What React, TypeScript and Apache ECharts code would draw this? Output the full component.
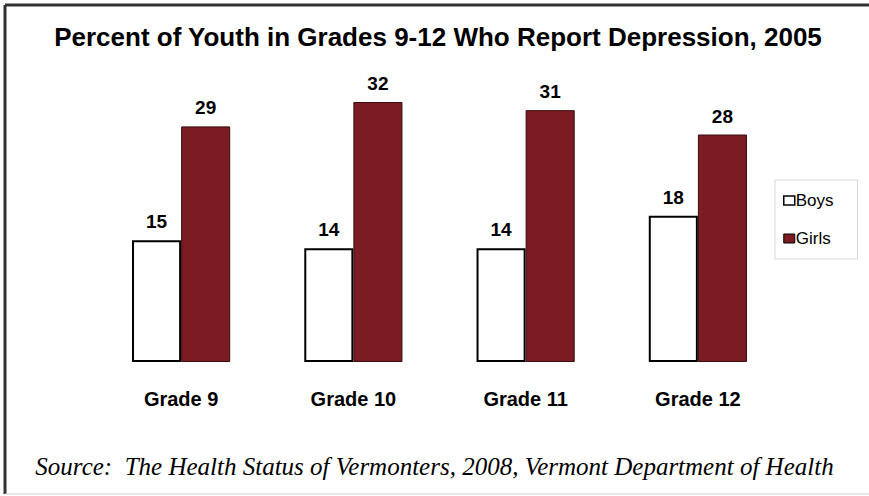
import React, { useEffect, useRef } from "react";
import * as echarts from "echarts";

const categories = ["Grade 9", "Grade 10", "Grade 11", "Grade 12"];
const boys = [15, 14, 14, 18];
const girls = [29, 32, 31, 28];

export default function App() {
  const ref = useRef<HTMLDivElement>(null);
  useEffect(() => {
    const chart = echarts.init(ref.current!, null, { renderer: "svg" });
    const labelStyle = {
      show: true,
      position: "top",
      distance: 9,
      fontFamily: "'Liberation Sans', Arial, sans-serif",
      fontWeight: "bold",
      fontSize: 19,
      color: "#000",
    };
    chart.setOption({
      animation: false,
      backgroundColor: "#ffffff",
      title: {
        text: "Percent of Youth in Grades 9-12 Who Report Depression, 2005",
        left: 433,
        textAlign: "center",
        top: 19,
        textStyle: {
          fontFamily: "'Liberation Sans', Arial, sans-serif",
          fontWeight: "bold",
          fontSize: 26,
          color: "#000",
        },
      },
      legend: {
        orient: "vertical",
        left: 775,
        top: 180,
        itemWidth: 11,
        itemHeight: 9,
        itemGap: 21,
        icon: "rect",
        padding: [12, 24, 12, 8],
        borderColor: "#d8d8d8",
        borderWidth: 1,
        textStyle: { fontFamily: "'Liberation Sans', Arial, sans-serif", fontSize: 17, color: "#000", padding: [0, 0, 0, -4] },
        data: [
          { name: "Boys", itemStyle: { color: "#ffffff", borderColor: "#000", borderWidth: 1.5 } },
          { name: "Girls", itemStyle: { color: "#7a1c22", borderColor: "#000", borderWidth: 1 } },
        ],
      },
      grid: { left: 95, right: 85, top: 37, bottom: 134, containLabel: false },
      xAxis: {
        type: "category",
        data: categories,
        axisLine: { show: false },
        axisTick: { show: false },
        axisLabel: {
          margin: 27,
          fontFamily: "'Liberation Sans', Arial, sans-serif",
          fontWeight: "bold",
          fontSize: 20,
          color: "#000",
        },
      },
      yAxis: {
        type: "value",
        min: 0,
        max: 40,
        show: false,
        splitLine: { show: false },
      },
      series: [
        {
          name: "Boys",
          type: "bar",
          data: boys,
          barGap: "0%",
          barCategoryGap: "43%",
          itemStyle: { color: "#ffffff", borderColor: "#000", borderWidth: 2 },
          label: labelStyle,
        },
        {
          name: "Girls",
          type: "bar",
          data: girls,
          itemStyle: { color: "#7a1c22", borderColor: "#3a0c0e", borderWidth: 1 },
          label: labelStyle,
        },
      ],
      graphic: [
        {
          type: "text",
          left: "center",
          top: 454,
          style: {
            text: "Source:  The Health Status of Vermonters, 2008, Vermont Department of Health",
            font: "italic 25px 'Liberation Serif', 'DejaVu Serif', serif",
            fill: "#000",
          },
        },
        { type: "line", shape: { x1: 5, y1: 5, x2: 869, y2: 5 }, style: { stroke: "#333", lineWidth: 3 } },
        { type: "line", shape: { x1: 5, y1: 5, x2: 5, y2: 494 }, style: { stroke: "#333", lineWidth: 3 } },
        { type: "line", shape: { x1: 5, y1: 494, x2: 869, y2: 494 }, style: { stroke: "#d0d0d0", lineWidth: 1 } },
      ],
    });
    return () => chart.dispose();
  }, []);
  return <div ref={ref} style={{ position: "absolute", left: 0, top: 0, width: 869, height: 496 }} />;
}
